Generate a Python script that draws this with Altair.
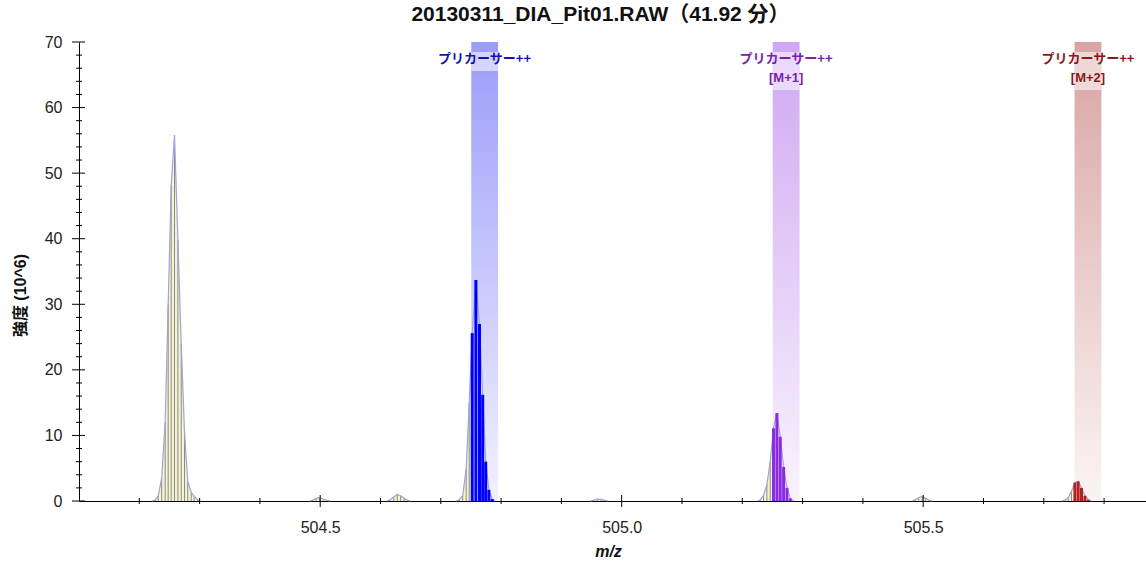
import altair as alt
import pandas as pd

# ---- spectrum profile points (m/z, intensity in 10^6), one list pair per isotope cluster ----
mz_a = [504.2210, 504.2264, 504.2313, 504.2371, 504.2429, 504.2479, 504.2529, 504.2584,
        504.2640, 504.2695, 504.2750, 504.2803, 504.2861, 504.2910, 504.2968, 504.3020]
in_a = [0, 0.2, 0.8, 3.5, 12.0, 30.0, 48.2, 55.8, 39.8, 24.0, 10.5, 3.0, 1.3, 0.7, 0.2, 0]

mz_b = [504.4820, 504.4867, 504.4934, 504.4992, 504.5050, 504.5116, 504.5170]
in_b = [0, 0.1, 0.4, 0.5, 0.3, 0.1, 0]

mz_c = [504.6110, 504.6161, 504.6219, 504.6277, 504.6335, 504.6393, 504.6451, 504.6500]
in_c = [0, 0.2, 0.6, 1.0, 0.8, 0.4, 0.1, 0]

mz_d = [504.7250, 504.7305, 504.7363, 504.7421, 504.7471, 504.7521, 504.7582, 504.7642,
        504.7695, 504.7745, 504.7798, 504.7852, 504.7900]
in_d = [0, 0.2, 0.8, 4.9, 15.0, 25.6, 33.7, 27.0, 16.2, 6.0, 1.7, 0.3, 0]

mz_e = [504.9480, 504.9527, 504.9594, 504.9660, 504.9726, 504.9780]
in_e = [0, 0.1, 0.3, 0.25, 0.1, 0]

mz_f = [505.2250, 505.2297, 505.2352, 505.2408, 505.2463, 505.2518, 505.2574, 505.2629,
        505.2685, 505.2741, 505.2796, 505.2850]
in_f = [0, 0.2, 0.8, 2.5, 6.0, 11.1, 13.4, 9.8, 5.2, 2.0, 0.4, 0]

mz_g = [505.4820, 505.4867, 505.4925, 505.4983, 505.5041, 505.5100, 505.5150]
in_g = [0, 0.2, 0.5, 0.7, 0.4, 0.1, 0]

mz_h = [505.7300, 505.7350, 505.7405, 505.7459, 505.7516, 505.7570, 505.7625, 505.7682,
        505.7736, 505.7790]
in_h = [0, 0.15, 0.5, 1.5, 2.8, 3.0, 2.0, 0.8, 0.2, 0]

# ---- precursor isolation windows ----
win_start = [504.7505, 505.2505, 505.7510]
win_end = [504.7950, 505.2950, 505.7955]
win_label = ["プリカーサー++", "プリカーサー++", "プリカーサー++"]
win_sub = ["", "[M+1]", "[M+2]"]
win_text_color = ["#1414a8", "#7a22a8", "#8a1a1a"]
win_bar_color = ["#0000ff", "#8a2be2", "#b22222"]
win_grad_top = ["#9c9cfa", "#cfa8f2", "#d9a4a4"]
win_grad_bottom = ["#f2f2ff", "#f9f3fd", "#fbf4f4"]

# ---- axis ticks ----
x_major = [504.5, 505.0, 505.5]
x_minor = [504.2, 504.3, 504.4, 504.6, 504.7, 504.8, 504.9, 505.1, 505.2, 505.3,
           505.4, 505.6, 505.7, 505.8]
y_major = [0, 10, 20, 30, 40, 50, 60, 70]
y_minor = [2, 4, 6, 8, 12, 14, 16, 18, 22, 24, 26, 28, 32, 34, 36, 38, 42, 44, 46, 48,
           52, 54, 56, 58, 62, 64, 66, 68]

W, H = 1067, 459

clusters = [(mz_a, in_a), (mz_b, in_b), (mz_c, in_c), (mz_d, in_d),
            (mz_e, in_e), (mz_f, in_f), (mz_g, in_g), (mz_h, in_h)]
rows = []
for i, (mzs, ints) in enumerate(clusters):
    for m, v in zip(mzs, ints):
        rows.append({"mz": m, "inten": v, "peak": i})
prof = pd.DataFrame(rows)

win = pd.DataFrame({
    "start": win_start, "end": win_end, "label": win_label, "sub": win_sub,
    "tcolor": win_text_color, "bcolor": win_bar_color,
})
win["mid"] = (win["start"] + win["end"]) / 2
win["top"] = 70
win["bottom"] = 0

# points inside an isolation window get that window's colour
col_rows = []
for _, w in win.iterrows():
    sel = prof[(prof.mz >= w.start) & (prof.mz <= w.end) & (prof.inten > 0)]
    for _, r in sel.iterrows():
        col_rows.append({"mz": r.mz, "inten": r.inten, "bcolor": w.bcolor})
colored = pd.DataFrame(col_rows)

xs = alt.Scale(domain=[504.1, 505.8695], nice=False, zero=False)
ys = alt.Scale(domain=[0, 70], nice=False)

x_axis = alt.Axis(values=x_major, format=".1f", ticks=False, tickSize=0,
                  grid=False, domainColor="#000000", domainWidth=1,
                  labelFont="Liberation Sans", labelFontSize=16, labelColor="#222222",
                  labelPadding=18, title="m/z", titleFont="Liberation Sans",
                  titleFontSize=16, titleFontWeight="bold", titleFontStyle="italic",
                  titleColor="#111111", titleX=529, titleY=50,
                  titleBaseline="middle", titleAlign="center")
y_axis = alt.Axis(values=y_major, ticks=False, tickSize=0, grid=False,
                  domainColor="#000000", domainWidth=1,
                  labelFont="Liberation Sans", labelFontSize=16, labelColor="#222222",
                  labelPadding=17, title="強度 (10^6)",
                  titleFont="Liberation Sans, Noto Sans CJK JP", titleFontSize=16,
                  titleFontWeight="bold", titleColor="#111111", titleAngle=270,
                  titleX=-59, titleY=253, titleBaseline="middle", titleAlign="center")


def X(f="mz:Q"):
    return alt.X(f, scale=xs, axis=x_axis)


def Y(f="inten:Q"):
    return alt.Y(f, scale=ys, axis=y_axis)


# isolation window bands with vertical gradient
bands = []
for i in range(len(win_start)):
    bands.append(
        alt.Chart(win.iloc[[i]]).mark_rect(
            color=alt.LinearGradient(
                gradient="linear", x1=0, y1=0, x2=0, y2=1,
                stops=[alt.GradientStop(color=win_grad_top[i], offset=0),
                       alt.GradientStop(color=win_grad_bottom[i], offset=1)],
            )
        ).encode(x=X("start:Q"), x2="end:Q", y=Y("top:Q"), y2="bottom:Q")
    )

# light boxes behind the window labels
lab_bg1 = alt.Chart(win[win["sub"] == ""]).mark_rect(color="white", opacity=0.55).encode(
    x=X("start:Q"), x2="end:Q", y=alt.value(10), y2=alt.value(29))
lab_bg2 = alt.Chart(win[win["sub"] != ""]).mark_rect(color="white", opacity=0.55).encode(
    x=X("start:Q"), x2="end:Q", y=alt.value(10), y2=alt.value(48))

area = alt.Chart(prof).mark_area(color="#f4f4d2", opacity=1, interpolate="linear").encode(
    x=X(), y=Y(), detail="peak:N")

sticks = alt.Chart(prof[prof.inten > 0]).mark_rule(color="#8a8a8a", strokeWidth=1).encode(
    x=X(), y=Y(), y2=alt.datum(0))

envelope = alt.Chart(prof).mark_line(color="#a2a2dc", strokeWidth=1.2).encode(
    x=X(), y=Y(), detail="peak:N")

bars = alt.Chart(colored).mark_rule(strokeWidth=3).encode(
    x=X(), y=Y(), y2=alt.datum(0), color=alt.Color("bcolor:N", scale=None))

# crossing tick marks on both axes
xt = pd.DataFrame({"v": x_major + x_minor,
                   "k": ["major"] * len(x_major) + ["minor"] * len(x_minor)})
yt = pd.DataFrame({"v": y_major + y_minor,
                   "k": ["major"] * len(y_major) + ["minor"] * len(y_minor)})

xt_major = alt.Chart(xt[xt.k == "major"]).mark_rule(color="#000000").encode(
    x=X("v:Q"), y=alt.value(H - 6), y2=alt.value(H + 6))
xt_minor = alt.Chart(xt[xt.k == "minor"]).mark_rule(color="#000000").encode(
    x=X("v:Q"), y=alt.value(H - 3), y2=alt.value(H + 3))
yt_major = alt.Chart(yt[yt.k == "major"]).mark_rule(color="#000000").encode(
    y=Y("v:Q"), x=alt.value(-7), x2=alt.value(6))
yt_minor = alt.Chart(yt[yt.k == "minor"]).mark_rule(color="#000000").encode(
    y=Y("v:Q"), x=alt.value(-3), x2=alt.value(3))

lab1 = alt.Chart(win).mark_text(font="Noto Sans CJK JP", fontSize=13, fontWeight="bold",
                                baseline="middle", align="center").encode(
    x=X("mid:Q"), y=alt.value(17), text="label:N", color=alt.Color("tcolor:N", scale=None))
lab2 = alt.Chart(win[win["sub"] != ""]).mark_text(font="Liberation Sans", fontSize=13,
                                                  fontWeight="bold", baseline="middle",
                                                  align="center").encode(
    x=X("mid:Q"), y=alt.value(36), text="sub:N", color=alt.Color("tcolor:N", scale=None))

chart = alt.layer(
    area, *bands, lab_bg1, lab_bg2, sticks, envelope, bars,
    xt_major, xt_minor, yt_major, yt_minor, lab1, lab2,
).properties(
    width=W, height=H,
    title=alt.TitleParams("20130311_DIA_Pit01.RAW（41.92 分）",
                          font="Liberation Sans Narrow, Liberation Sans, Noto Sans CJK JP",
                          fontSize=21, fontWeight="bold", color="#111111",
                          anchor="middle", offset=9, dx=-12),
    autosize=alt.AutoSizeParams(type="none"),
    padding={"left": 79, "top": 42, "right": 0, "bottom": 63},
    background="white",
).configure_view(stroke=None)

chart.save("out.html", embed_options={"renderer": "svg", "actions": False})
